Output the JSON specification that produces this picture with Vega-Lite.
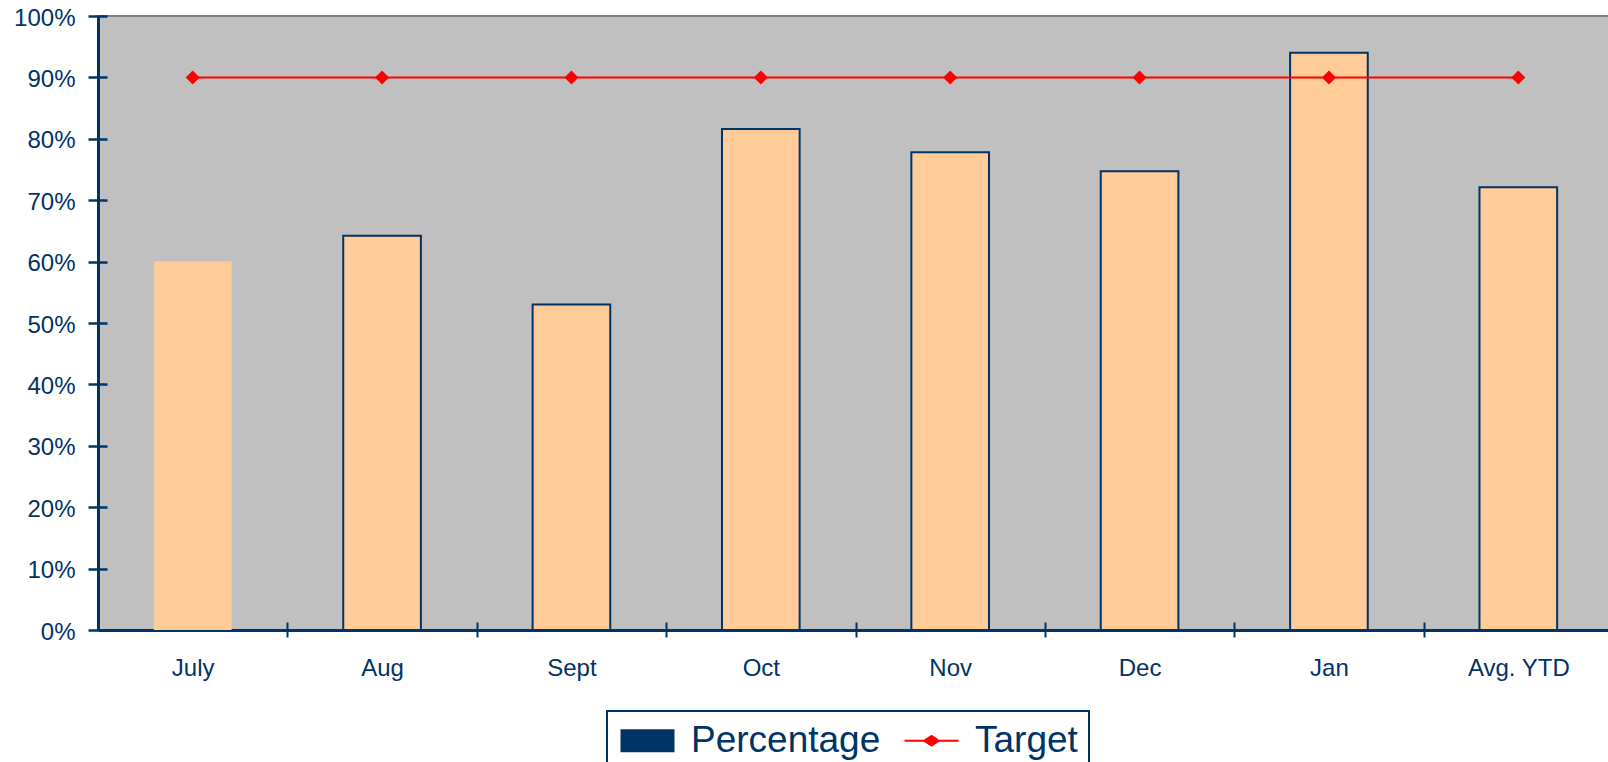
{
  "$schema": "https://vega.github.io/schema/vega-lite/v6.json",
  "width": 1515,
  "height": 614,
  "autosize": {"type": "none"},
  "padding": {"left": 98, "top": 16, "right": 0, "bottom": 132},
  "background": "white",
  "view": {"fill": "#C0C0C0", "stroke": "#808080", "strokeWidth": 2},
  "config": {
    "view": {"fill": "#C0C0C0", "stroke": "#808080", "strokeWidth": 2},
    "font": "Liberation Sans",
    "axis": {"grid": false},
    "legend": {
      "orient": "none",
      "legendX": 509,
      "legendY": 695,
      "direction": "horizontal",
      "strokeColor": "#003366",
      "strokeWidth": 2,
      "padding": 11,
      "symbolSize": 1024,
      "symbolStrokeWidth": 0,
      "symbolOpacity": 1,
      "labelFont": "Liberation Sans",
      "labelFontSize": 37,
      "labelColor": "#003366",
      "labelOffset": 36,
      "labelLimit": 500,
      "columnPadding": 21
    }
  },
  "data": {
    "values": [
      {"month": "July", "value": 0.60, "target": 0.9},
      {"month": "Aug", "value": 0.642, "target": 0.9},
      {"month": "Sept", "value": 0.53, "target": 0.9},
      {"month": "Oct", "value": 0.816, "target": 0.9},
      {"month": "Nov", "value": 0.778, "target": 0.9},
      {"month": "Dec", "value": 0.747, "target": 0.9},
      {"month": "Jan", "value": 0.94, "target": 0.9},
      {"month": "Avg. YTD", "value": 0.721, "target": 0.9}
    ]
  },
  "layer": [
    {
      "data": {"values": [{"series": "Percentage"}, {"series": "Target"}]},
      "mark": {"type": "point", "filled": true, "opacity": 0},
      "encoding": {
        "shape": {
          "field": "series", "type": "nominal", "title": null,
          "scale": {"domain": ["Percentage", "Target"], "range": ["M-1,-0.72H2.375V0.72H-1Z", "M-1,-0.07H2.375V0.07H-1ZM0.6875,-0.375L1.25,0L0.6875,0.375L0.125,0Z"]},
          "legend": {"encode": {"symbols": {"update": {"opacity": {"value": 1}, "fillOpacity": {"value": 1}}}}}
        },
        "color": {
          "field": "series", "type": "nominal", "title": null,
          "scale": {"domain": ["Percentage", "Target"], "range": ["#003366", "#FF0000"]},
          "legend": {"encode": {"symbols": {"update": {"opacity": {"value": 1}, "fillOpacity": {"value": 1}}}}}
        }
      }
    },
    {
      "mark": {"type": "bar", "fill": "#FFCC99", "stroke": "#003366", "strokeWidth": 2},
      "encoding": {
        "x": {
          "field": "month", "type": "nominal", "sort": null,
          "scale": {"paddingInner": 0.59, "paddingOuter": 0.295},
          "axis": {
            "orient": "bottom", "title": null, "labelAngle": 0,
            "tickOffset": 94.7, "labelOffset": -94.7,
            "tickSize": 7, "tickWidth": 2, "tickColor": "#003366",
            "domainColor": "#003366", "domainWidth": 3,
            "labelFontSize": 24, "labelColor": "#003366", "labelPadding": 19
          }
        },
        "y": {
          "field": "value", "type": "quantitative",
          "scale": {"domain": [0, 1]},
          "axis": {
            "orient": "left", "title": null, "format": ".0%",
            "values": [0, 0.1, 0.2, 0.3, 0.4, 0.5, 0.6, 0.7, 0.8, 0.9, 1],
            "tickSize": 10, "tickWidth": 2.5, "tickColor": "#003366",
            "domainColor": "#003366", "domainWidth": 3,
            "labelFontSize": 24, "labelColor": "#003366", "labelPadding": 13, "labelOffset": 2
          }
        },
        "strokeOpacity": {"condition": {"test": "datum.month === 'July'", "value": 0}, "value": 1}
      }
    },
    {
      "mark": {"type": "line", "color": "#FF0000", "strokeWidth": 2},
      "encoding": {
        "x": {
          "field": "month", "type": "nominal", "sort": null,
          "axis": {
            "orient": "bottom", "title": null, "labels": false, "domain": false,
            "tickOffset": 94.7,
            "tickSize": -8, "tickWidth": 2, "tickColor": "#003366"
          }
        },
        "y": {
          "field": "target", "type": "quantitative",
          "axis": {
            "orient": "left", "title": null, "labels": false, "domain": false,
            "values": [0, 0.1, 0.2, 0.3, 0.4, 0.5, 0.6, 0.7, 0.8, 0.9, 1],
            "tickSize": -9, "tickWidth": 2.5, "tickColor": "#003366"
          }
        }
      }
    },
    {
      "mark": {"type": "point", "shape": "diamond", "size": 196, "filled": true, "color": "#FF0000", "opacity": 1},
      "encoding": {
        "x": {"field": "month", "type": "nominal", "sort": null, "axis": null},
        "y": {"field": "target", "type": "quantitative", "axis": null}
      }
    }
  ],
  "resolve": {"axis": {"x": "independent", "y": "independent"}}
}
